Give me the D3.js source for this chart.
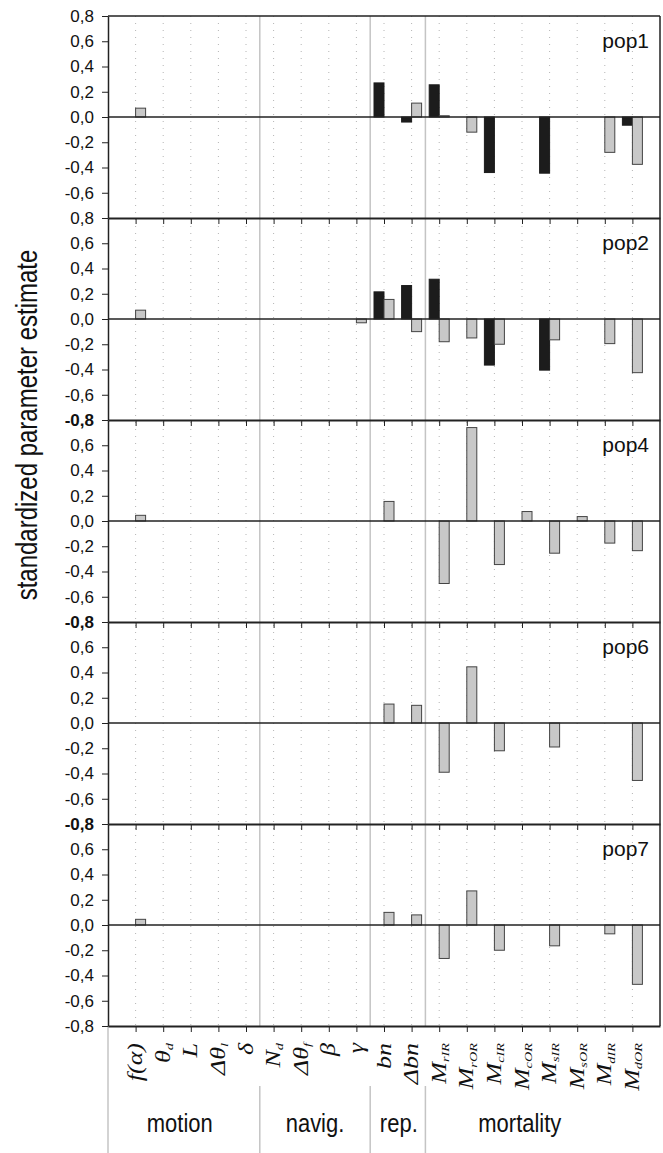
<!DOCTYPE html>
<html>
<head>
<meta charset="utf-8">
<script src="https://cdn.jsdelivr.net/npm/d3@7"></script>
<style>
  body { margin: 0; background: #fff; }
  svg { display: block; }
  text { font-family: Arial, "Liberation Sans", sans-serif; fill: #111; }
  .xlab text { font-family: "Liberation Serif", "Times New Roman", serif; font-style: italic; }
</style>
</head>
<body>
<svg id="chart" width="663" height="1153"></svg>
<script>
// categories (parameters), in plotting order
const categories = ['fa', 'thd', 'L', 'dthl', 'delta', 'Nd', 'dthf', 'beta', 'gamma', 'bn', 'dbn',
  'MrIR', 'MrOR', 'McIR', 'McOR', 'MsIR', 'MsOR', 'MdIR', 'MdOR'];
const labelMain = ['f(α)', 'θ', 'L', 'Δθ', 'δ', 'N', 'Δθ', 'β', 'γ', 'bn', 'Δbn',
  'M', 'M', 'M', 'M', 'M', 'M', 'M', 'M'];
const labelSub = ['', 'd', '', 'l', '', 'd', 'f', '', '', '', '',
  'rIR', 'rOR', 'cIR', 'cOR', 'sIR', 'sOR', 'dIR', 'dOR'];

const groupNames = ['motion', 'navig.', 'rep.', 'mortality'];
const groupFirst = [0, 5, 9, 11];   // index of first category in each group
const groupLast = [4, 8, 10, 18];

const panelNames = ['pop1', 'pop2', 'pop4', 'pop6', 'pop7'];
const tickValues = [0.8, 0.6, 0.4, 0.2, 0, -0.2, -0.4, -0.6, -0.8];

// standardized estimates, null = no bar
const pop1Black = [null, null, null, null, null, null, null, null, null, 0.27, -0.04, 0.255, null, -0.44, null, -0.445, null, null, -0.065];
const pop1Gray  = [0.07, null, null, null, null, null, null, null, null, null, 0.11, 0.01, -0.12, null, null, null, null, -0.28, -0.375];
const pop2Black = [null, null, null, null, null, null, null, null, null, 0.215, 0.265, 0.315, null, -0.365, null, -0.405, null, null, null];
const pop2Gray  = [0.07, null, null, null, null, null, null, null, -0.03, 0.155, -0.10, -0.18, -0.15, -0.20, null, -0.165, null, -0.195, -0.425];
const pop4Gray  = [0.045, null, null, null, null, null, null, null, null, 0.155, null, -0.495, 0.74, -0.345, 0.075, -0.255, 0.035, -0.175, -0.235];
const pop6Gray  = [null, null, null, null, null, null, null, null, null, 0.15, 0.14, -0.39, 0.445, -0.22, null, -0.19, null, null, -0.455];
const pop7Gray  = [0.045, null, null, null, null, null, null, null, null, 0.10, 0.08, -0.265, 0.27, -0.20, null, -0.165, null, -0.07, -0.47];

const panelBlack = [pop1Black, pop2Black, null, null, null];
const panelGray = [pop1Gray, pop2Gray, pop4Gray, pop6Gray, pop7Gray];

const svg = d3.select('#chart');
const plotLeft = 108, plotRight = 660, plotTop = 16, panelH = 202;
const plotBottom = plotTop + panelH * panelNames.length;
const groupLabelDx = [-11, 0, 1, -16];  // nudges of the group captions

const x = d3.scalePoint().domain(categories).range([plotLeft, plotRight]).padding(1);
const xs = d3.scaleBand().domain(['black', 'gray']).range([-10, 10]);
const fmt = d3.formatLocale({decimal: ',', thousands: '.', grouping: [3], currency: ['', ''], minus: '-'}).format('.1f');

// dotted category gridlines
svg.append('g').selectAll('line')
  .data(categories)
  .join('line')
  .attr('x1', d => x(d)).attr('x2', d => x(d))
  .attr('y1', plotTop).attr('y2', plotBottom)
  .attr('stroke', '#b4b4b4').attr('stroke-width', 1)
  .attr('stroke-dasharray', '1 6');

// group separators
const sepX = groupFirst.slice(1).map(i => (x(categories[i - 1]) + x(categories[i])) / 2);
const seps = svg.append('g').attr('stroke', '#c4c4c4').attr('stroke-width', 1.5);
sepX.forEach(sx => {
  seps.append('line').attr('x1', sx).attr('x2', sx).attr('y1', plotTop).attr('y2', plotBottom);
  seps.append('line').attr('x1', sx).attr('x2', sx).attr('y1', 1086).attr('y2', 1153);
});
seps.append('line').attr('x1', plotLeft).attr('x2', plotLeft).attr('y1', plotBottom).attr('y2', 1153);

panelNames.forEach((name, p) => {
  const y0 = plotTop + p * panelH;
  const y = d3.scaleLinear().domain([-0.8, 0.8]).range([y0 + panelH, y0]);
  const g = svg.append('g');

  const series = [];
  if (panelBlack[p]) series.push({key: 'black', vals: panelBlack[p]});
  series.push({key: 'gray', vals: panelGray[p]});

  series.forEach(s => {
    g.append('g').selectAll('rect')
      .data(s.vals.map((v, i) => ({c: categories[i], v})).filter(d => d.v !== null))
      .join('rect')
      .attr('x', d => x(d.c) + xs(s.key))
      .attr('width', xs.bandwidth())
      .attr('y', d => y(Math.max(0, d.v)))
      .attr('height', d => Math.abs(y(d.v) - y(0)))
      .attr('fill', s.key === 'black' ? '#1c1c1c' : '#c8c8c8')
      .attr('stroke', s.key === 'black' ? '#1c1c1c' : '#444')
      .attr('stroke-width', 1);
  });

  // zero line
  g.append('line')
    .attr('x1', plotLeft).attr('x2', plotRight)
    .attr('y1', y(0)).attr('y2', y(0))
    .attr('stroke', '#222').attr('stroke-width', 1.5);

  // y axis, labels shared at panel borders
  const ya = g.append('g')
    .attr('transform', `translate(${plotLeft},0)`)
    .call(d3.axisLeft(y).tickValues(tickValues).tickSize(6).tickSizeOuter(0).tickPadding(8)
      .tickFormat(d => {
        if (d === -0.8 && p === 0) return '';
        if (d === 0.8 && p > 1) return '';
        return fmt(d);
      }));
  ya.select('.domain').attr('stroke', '#222').attr('stroke-width', 1.5);
  ya.selectAll('.tick line').attr('stroke', '#222');
  ya.selectAll('.tick text')
    .style('font-size', '17px')
    .style('font-family', 'Arial, "Liberation Sans", sans-serif')
    .attr('fill', '#111')
    .attr('font-weight', d => (d === -0.8 && p > 0 && p < 4) ? 'bold' : null);

  // bottom border with category ticks
  const xa = g.append('g')
    .attr('transform', `translate(0,${y0 + panelH})`)
    .call(d3.axisBottom(x).tickSize(6).tickSizeOuter(0).tickFormat(''));
  xa.select('.domain').attr('stroke', '#222').attr('stroke-width', 2);
  xa.selectAll('.tick line').attr('stroke', '#222');

  g.append('text')
    .attr('x', 649).attr('y', y0 + 32)
    .attr('text-anchor', 'end')
    .style('font-size', '21px')
    .text(name);
});

// top and right borders
svg.append('line').attr('x1', plotLeft).attr('x2', plotRight).attr('y1', plotTop).attr('y2', plotTop)
  .attr('stroke', '#222').attr('stroke-width', 1.5);
svg.append('line').attr('x1', plotRight).attr('x2', plotRight).attr('y1', plotTop).attr('y2', plotBottom)
  .attr('stroke', '#222').attr('stroke-width', 1.5);

// category labels
const xl = svg.append('g').attr('class', 'xlab');
categories.forEach((c, i) => {
  const t = xl.append('g')
    .attr('transform', `translate(${x(c) + 6.5},1043) rotate(-90) scale(1.3,1)`)
    .append('text')
    .attr('text-anchor', 'end')
    .style('font-size', '20px');
  t.append('tspan').text(labelMain[i]);
  if (labelSub[i]) {
    t.append('tspan').attr('dy', '0.3em').style('font-size', '11px').text(labelSub[i]);
  }
});

// group labels
groupNames.forEach((gname, i) => {
  const cx = (x(categories[groupFirst[i]]) + x(categories[groupLast[i]])) / 2 + groupLabelDx[i];
  svg.append('text')
    .attr('transform', `translate(${cx},1132) scale(1,1.2)`)
    .attr('text-anchor', 'middle')
    .style('font-size', '22px')
    .text(gname);
});

// y axis title
svg.append('text')
  .attr('transform', 'translate(37,425) rotate(-90) scale(1,1.2)')
  .attr('text-anchor', 'middle')
  .style('font-size', '24px')
  .text('standardized parameter estimate');
</script>
</body>
</html>
